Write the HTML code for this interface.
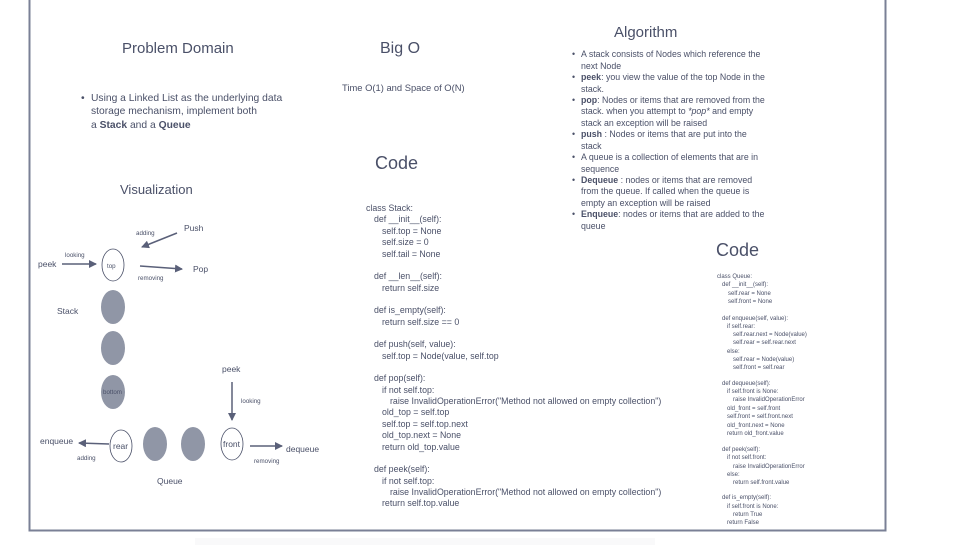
<!DOCTYPE html>
<html><head><meta charset="utf-8"><style>
html,body{margin:0;padding:0;background:#fff;}
svg{display:block;font-family:"Liberation Sans",sans-serif;}
text{fill:#4a5068;}
</style></head><body>
<svg width="953" height="545" viewBox="0 0 953 545" xmlns="http://www.w3.org/2000/svg">
<defs>
<marker id="a" markerWidth="8" markerHeight="8" refX="7" refY="4" orient="auto" markerUnits="userSpaceOnUse">
<path d="M0,0 L8,4 L0,8 z" fill="#5a6079"/></marker>
</defs>
<rect x="195" y="538" width="460" height="7" fill="#f9f9fa"/>
<path d="M29.5,0 V530.5 H885.5 V0" fill="none" stroke="#7a8096" stroke-width="2"/>

<g font-size="15">
<text x="122" y="53">Problem Domain</text>
<text x="380" y="53" font-size="16">Big O</text>
<text x="614" y="37">Algorithm</text>
<text x="120" y="194" font-size="13">Visualization</text>
</g>
<text x="375" y="169" font-size="18">Code</text>
<text x="716" y="256" font-size="18">Code</text>

<g font-size="10.3">
<text x="81" y="101">•</text>
<text x="91" y="101">Using a Linked List as the underlying data</text>
<text x="91" y="114">storage mechanism, implement both</text>
<text x="91" y="128">a <tspan font-weight="bold">Stack</tspan> and a <tspan font-weight="bold">Queue</tspan></text>
</g>
<text x="342" y="91" font-size="9.4">Time O(1) and Space of O(N)</text>

<g font-size="8.8">
<text x="572" y="57">•</text><text x="581" y="57">A stack consists of Nodes which reference the</text>
<text x="581" y="69">next Node</text>
<text x="572" y="80">•</text><text x="581" y="80"><tspan font-weight="bold">peek</tspan>: you view the value of the top Node in the</text>
<text x="581" y="92">stack.</text>
<text x="572" y="103">•</text><text x="581" y="103"><tspan font-weight="bold">pop</tspan>: Nodes or items that are removed from the</text>
<text x="581" y="114">stack. when you attempt to <tspan font-style="italic">*pop*</tspan> and empty</text>
<text x="581" y="126">stack an exception will be raised</text>
<text x="572" y="137">•</text><text x="581" y="137"><tspan font-weight="bold">push</tspan> : Nodes or items that are put into the</text>
<text x="581" y="149">stack</text>
<text x="572" y="160">•</text><text x="581" y="160">A queue is a collection of elements that are in</text>
<text x="581" y="172">sequence</text>
<text x="572" y="183">•</text><text x="581" y="183"><tspan font-weight="bold">Dequeue</tspan> : nodes or items that are removed</text>
<text x="581" y="194">from the queue. If called when the queue is</text>
<text x="581" y="206">empty an exception will be raised</text>
<text x="572" y="217">•</text><text x="581" y="217"><tspan font-weight="bold">Enqueue</tspan>: nodes or items that are added to the</text>
<text x="581" y="229">queue</text>
</g>

<g font-size="8.8">
<text x="366" y="211">class Stack:</text>
<text x="374" y="222">def __init__(self):</text>
<text x="382" y="234">self.top = None</text>
<text x="382" y="245">self.size = 0</text>
<text x="382" y="257">self.tail = None</text>
<text x="374" y="279">def __len__(self):</text>
<text x="382" y="291">return self.size</text>
<text x="374" y="313">def is_empty(self):</text>
<text x="382" y="325">return self.size == 0</text>
<text x="374" y="347">def push(self, value):</text>
<text x="382" y="359">self.top = Node(value, self.top</text>
<text x="374" y="381">def pop(self):</text>
<text x="382" y="393">if not self.top:</text>
<text x="390" y="404">raise InvalidOperationError("Method not allowed on empty collection")</text>
<text x="382" y="415">old_top = self.top</text>
<text x="382" y="427">self.top = self.top.next</text>
<text x="382" y="438">old_top.next = None</text>
<text x="382" y="450">return old_top.value</text>
<text x="374" y="472">def peek(self):</text>
<text x="382" y="484">if not self.top:</text>
<text x="390" y="495">raise InvalidOperationError("Method not allowed on empty collection")</text>
<text x="382" y="506">return self.top.value</text>
</g>

<g font-size="6">
<text x="717" y="278">class Queue:</text>
<text x="722" y="286">def __init__(self):</text>
<text x="728" y="295">self.rear = None</text>
<text x="728" y="303">self.front = None</text>
<text x="722" y="320">def enqueue(self, value):</text>
<text x="727" y="328">if self.rear:</text>
<text x="733" y="336">self.rear.next = Node(value)</text>
<text x="733" y="344">self.rear = self.rear.next</text>
<text x="727" y="353">else:</text>
<text x="733" y="361">self.rear = Node(value)</text>
<text x="733" y="369">self.front = self.rear</text>
<text x="722" y="385">def dequeue(self):</text>
<text x="727" y="393">if self.front is None:</text>
<text x="733" y="401">raise InvalidOperationError</text>
<text x="727" y="410">old_front = self.front</text>
<text x="727" y="418">self.front = self.front.next</text>
<text x="727" y="427">old_front.next = None</text>
<text x="727" y="435">return old_front.value</text>
<text x="722" y="451">def peek(self):</text>
<text x="727" y="459">if not self.front:</text>
<text x="733" y="468">raise InvalidOperationError</text>
<text x="727" y="476">else:</text>
<text x="733" y="484">return self.front.value</text>
<text x="722" y="499">def is_empty(self):</text>
<text x="727" y="508">if self.front is None:</text>
<text x="733" y="516">return True</text>
<text x="727" y="524">return False</text>
</g>

<g stroke="#5a6079" stroke-width="1.5" fill="none">
<line x1="62" y1="264" x2="96" y2="264" marker-end="url(#a)"/>
<line x1="177" y1="233" x2="142" y2="247" marker-end="url(#a)"/>
<line x1="140" y1="266" x2="182" y2="269" marker-end="url(#a)"/>
<line x1="232" y1="382" x2="232" y2="420" marker-end="url(#a)"/>
<line x1="109" y1="444" x2="79" y2="443" marker-end="url(#a)"/>
<line x1="250" y1="446" x2="282" y2="446" marker-end="url(#a)"/>
</g>
<g stroke="#4a5068" stroke-width="0.8" fill="#fff">
<ellipse cx="113" cy="265" rx="11" ry="16"/>
<ellipse cx="121" cy="446" rx="11" ry="16"/>
<ellipse cx="232" cy="444" rx="11" ry="16"/>
</g>
<g fill="#9096a6">
<ellipse cx="113" cy="307" rx="12" ry="17"/>
<ellipse cx="113" cy="348" rx="12" ry="17"/>
<ellipse cx="113" cy="392" rx="12" ry="17"/>
<ellipse cx="155" cy="444" rx="12" ry="17"/>
<ellipse cx="193" cy="444" rx="12" ry="17"/>
</g>
<g font-size="8.5">
<text x="38" y="267">peek</text>
<text x="184" y="231">Push</text>
<text x="193" y="272">Pop</text>
<text x="57" y="314">Stack</text>
<text x="222" y="372">peek</text>
<text x="40" y="444">enqueue</text>
<text x="286" y="452">dequeue</text>
<text x="157" y="484">Queue</text>
<text x="113" y="449">rear</text>
<text x="223" y="447">front</text>
</g>
<g font-size="6.2">
<text x="65" y="257">looking</text>
<text x="136" y="235">adding</text>
<text x="138" y="280">removing</text>
<text x="107" y="268">top</text>
<text x="103" y="394">bottom</text>
<text x="241" y="403">looking</text>
<text x="77" y="460">adding</text>
<text x="254" y="463">removing</text>
</g>
</svg>
</body></html>
